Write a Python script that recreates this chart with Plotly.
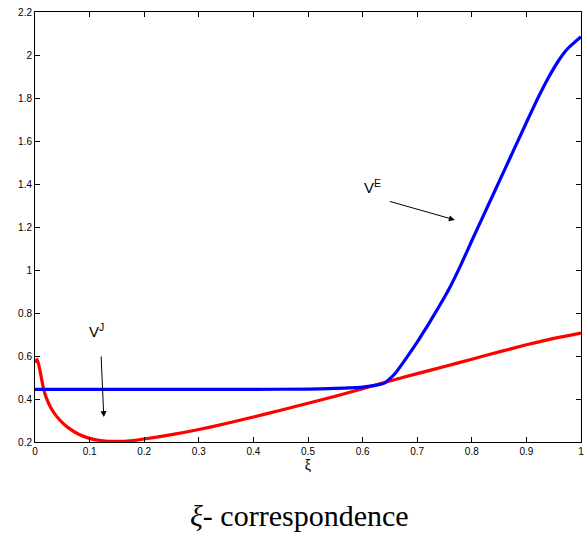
import plotly.graph_objects as go

# Data
xi_blue = [0, 0.1, 0.2, 0.3, 0.4, 0.5, 0.55, 0.6, 0.62, 0.64, 0.65, 0.66, 0.68, 0.70,
           0.72, 0.74, 0.76, 0.78, 0.80, 0.82, 0.84, 0.86, 0.88, 0.90, 0.92, 0.94,
           0.96, 0.975, 1.0]
v_blue = [0.445, 0.445, 0.445, 0.445, 0.445, 0.446, 0.449, 0.455, 0.462, 0.474, 0.495,
          0.52, 0.59, 0.665, 0.745, 0.83, 0.92, 1.024, 1.136, 1.246, 1.356, 1.466,
          1.576, 1.686, 1.794, 1.893, 1.978, 2.028, 2.085]

xi_red = [0, 0.004, 0.01, 0.015, 0.02, 0.03, 0.04, 0.05, 0.06, 0.08, 0.1, 0.12, 0.15,
          0.18, 0.2, 0.25, 0.3, 0.35, 0.4, 0.45, 0.5, 0.55, 0.6, 0.65, 0.7, 0.75, 0.8,
          0.85, 0.9, 0.95, 1.0]
v_red = [0.57, 0.585, 0.52, 0.455, 0.41, 0.355, 0.318, 0.29, 0.268, 0.236, 0.217, 0.207,
         0.203, 0.207, 0.214, 0.234, 0.258, 0.286, 0.316, 0.348, 0.38, 0.413, 0.448,
         0.484, 0.518, 0.551, 0.585, 0.619, 0.652, 0.682, 0.707]

x_ticks = [0, 0.1, 0.2, 0.3, 0.4, 0.5, 0.6, 0.7, 0.8, 0.9, 1]
x_tick_labels = ["0", "0.1", "0.2", "0.3", "0.4", "0.5", "0.6", "0.7", "0.8", "0.9", "1"]
y_ticks = [0.2, 0.4, 0.6, 0.8, 1.0, 1.2, 1.4, 1.6, 1.8, 2.0, 2.2]
y_tick_labels = ["0.2", "0.4", "0.6", "0.8", "1", "1.2", "1.4", "1.6", "1.8", "2", "2.2"]

fig = go.Figure()
fig.add_trace(go.Scatter(x=xi_red, y=v_red, mode="lines",
                         line=dict(color="#ff0000", width=3.2, shape="spline",
                                   smoothing=0.6), name="V^J"))
fig.add_trace(go.Scatter(x=xi_blue, y=v_blue, mode="lines",
                         line=dict(color="#0000ff", width=3.2, shape="spline",
                                   smoothing=0.5), name="V^E"))

sans = "Liberation Sans, Arial, sans-serif"
axis_common = dict(showline=True, linecolor="black", linewidth=1, mirror="allticks",
                   ticks="inside", ticklen=5, tickcolor="black", tickwidth=1,
                   showgrid=False, zeroline=False, automargin=False,
                   ticklabeloverflow="allow",
                   tickfont=dict(family=sans, size=10, color="black"))

fig.update_layout(
    width=584, height=540,
    margin=dict(l=35, r=3, t=12, b=98),
    paper_bgcolor="white", plot_bgcolor="white",
    showlegend=False,
    xaxis=dict(range=[0, 1], tickvals=x_ticks, ticktext=x_tick_labels,
               title=dict(text="ξ", font=dict(family=sans, size=14, color="black"),
                          standoff=3),
               **axis_common),
    yaxis=dict(range=[0.2, 2.2], tickvals=y_ticks, ticktext=y_tick_labels,
               **axis_common),
)

# Arrows
fig.add_annotation(x=0.769, y=1.233, ax=0.647, ay=1.321, xref="x", yref="y",
                   axref="x", ayref="y", text="", showarrow=True, arrowhead=2,
                   arrowsize=1.2, arrowwidth=1, arrowcolor="black")
fig.add_annotation(x=0.126, y=0.316, ax=0.121, ay=0.605, xref="x", yref="y",
                   axref="x", ayref="y", text="", showarrow=True, arrowhead=2,
                   arrowsize=1.2, arrowwidth=1, arrowcolor="black")
# Labels
fig.add_annotation(x=0.619, y=1.39, xref="x", yref="y", text="V<sup>E</sup>",
                   showarrow=False, font=dict(family=sans, size=15, color="black"))
fig.add_annotation(x=0.112, y=0.72, xref="x", yref="y", text="V<sup>J</sup>",
                   showarrow=False, font=dict(family=sans, size=15, color="black"))

# Caption
fig.add_annotation(x=0.484, y=-0.172, xref="paper", yref="paper",
                   text="<i>ξ</i>- correspondence", showarrow=False,
                   xanchor="center", yanchor="middle",
                   font=dict(family="Liberation Serif, Times New Roman, serif",
                             size=30, color="black"))

# Remove the default page margin so the figure fills the window exactly.
fig.write_html("out.html",
               config={"displayModeBar": False},
               post_script="document.body.style.margin='0';"
                           "document.body.style.overflow='hidden';")
